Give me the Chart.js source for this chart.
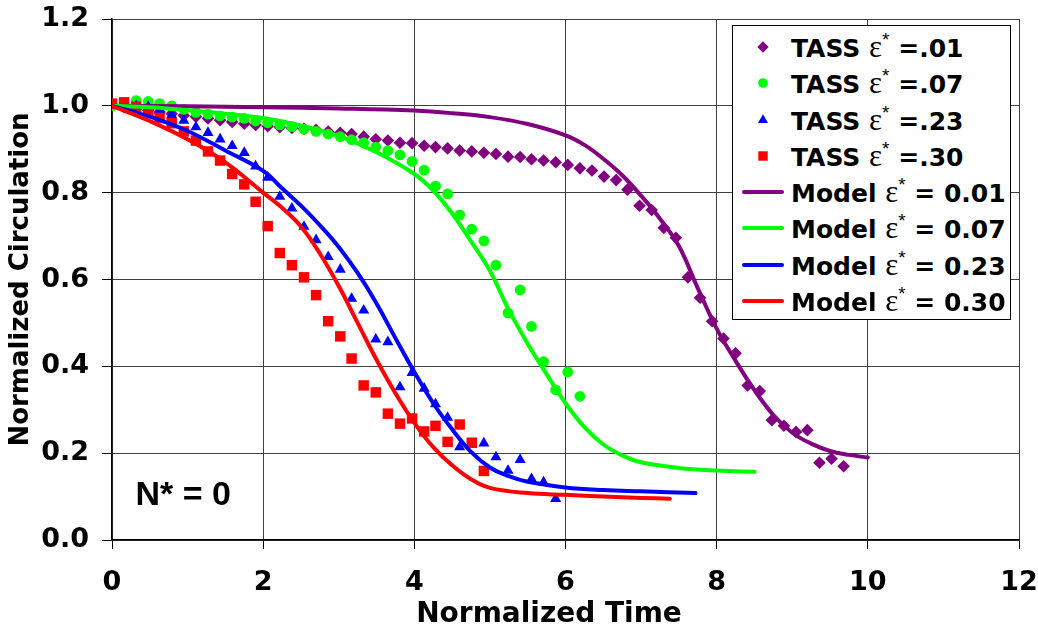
<!DOCTYPE html>
<html>
<head>
<meta charset="utf-8">
<script src="https://cdn.jsdelivr.net/npm/chart.js@4.4.1/dist/chart.umd.min.js"></script>
<style>
  html, body { margin: 0; padding: 0; background: #fff; }
  #wrap { position: relative; width: 1038px; height: 633px; }
  #legend {
    position: absolute; left: 732px; top: 25px; width: 277px;
    background: #fff; border: 1px solid #000; padding: 3px 0 0 0;
    font-family: 'DejaVu Sans', sans-serif; font-weight: bold; font-size: 25px; color: #000;
  }
  #legend .row { position: relative; height: 36.3px; line-height: 36.3px; white-space: nowrap; }
  #legend canvas { position: absolute; left: 9px; top: 8px; }
  #legend .txt { position: absolute; left: 58px; top: 0; }
  #legend .eps { font-family: 'Liberation Serif', serif; font-weight: normal; font-size: 31px; }
  #legend sup { font-family: 'Liberation Sans', sans-serif; font-weight: normal; font-size: 19px; vertical-align: 11px; line-height: 0; }
</style>
</head>
<body>
<div id="wrap">
  <canvas id="chart"></canvas>
  <div id="legend"></div>
</div>
<script>
// TASS samples (same time stamps for every case)
const tassTime = [0, 0.16, 0.32, 0.48, 0.63, 0.79, 0.95, 1.11, 1.27, 1.43,
  1.59, 1.75, 1.90, 2.06, 2.22, 2.38, 2.54, 2.70, 2.86, 3.02,
  3.17, 3.33, 3.49, 3.65, 3.81, 3.97, 4.13, 4.28, 4.44, 4.60,
  4.76, 4.92, 5.08, 5.24, 5.40, 5.55, 5.71, 5.87, 6.03, 6.19,
  6.35, 6.51, 6.67, 6.82, 6.98, 7.14, 7.30, 7.46, 7.62, 7.78,
  7.94, 8.09, 8.25, 8.41, 8.57, 8.73, 8.89, 9.05, 9.20, 9.36,
  9.52, 9.68];

const tass001 = [1.000, 0.997, 0.994, 0.990, 0.986, 0.982, 0.978, 0.975, 0.971, 0.967,
  0.963, 0.959, 0.956, 0.953, 0.951, 0.949, 0.947, 0.945, 0.941, 0.938,
  0.935, 0.929, 0.923, 0.920, 0.915, 0.914, 0.908, 0.905, 0.902, 0.897,
  0.895, 0.892, 0.889, 0.883, 0.882, 0.877, 0.874, 0.870, 0.864, 0.856,
  0.851, 0.837, 0.829, 0.807, 0.770, 0.760, 0.719, 0.696, 0.605, 0.558,
  0.504, 0.464, 0.430, 0.356, 0.343, 0.276, 0.263, 0.249, 0.253, 0.178,
  0.187, 0.170];

const tass007 = [1.000, 1.008, 1.012, 1.010, 1.005, 1.000, 0.992, 0.985, 0.981, 0.977,
  0.974, 0.971, 0.965, 0.961, 0.956, 0.952, 0.946, 0.941, 0.935, 0.929,
  0.922, 0.915, 0.905, 0.897, 0.887, 0.872, 0.852, 0.815, 0.797, 0.749,
  0.716, 0.689, 0.633, 0.523, 0.576, 0.492, 0.411, 0.346, 0.387, 0.331];

const tass023 = [1.000, 1.005, 1.000, 0.998, 0.989, 0.979, 0.966, 0.951, 0.938, 0.923,
  0.908, 0.892, 0.861, 0.835, 0.791, 0.764, 0.722, 0.691, 0.652, 0.623,
  0.556, 0.529, 0.462, 0.456, 0.352, 0.385, 0.349, 0.313, 0.282, 0.214,
  null, 0.223, 0.191, 0.160, 0.185, 0.141, 0.133, 0.095];

const tass030 = [1.005, 1.008, 0.998, 0.985, 0.972, 0.960, 0.941, 0.920, 0.895, 0.874,
  0.843, 0.819, 0.779, 0.723, 0.661, 0.633, 0.605, 0.564, 0.504, 0.469,
  0.418, 0.356, 0.340, 0.291, 0.268, 0.280, 0.250, 0.263, 0.226, 0.266,
  0.224, 0.159];

// model curves
const model001Time = [0, 1, 2, 3, 4, 4.5, 5, 5.5, 6, 6.25, 6.5, 6.75, 7, 7.25, 7.5, 7.75, 8, 8.25, 8.5, 8.75, 9, 9.25, 9.5, 9.75, 10];
const model001 = [1.0, 0.999, 0.997, 0.994, 0.989, 0.983, 0.974, 0.958, 0.932, 0.91, 0.878, 0.84, 0.793, 0.74, 0.677, 0.58, 0.487, 0.413, 0.345, 0.288, 0.247, 0.222, 0.205, 0.196, 0.19];

const model007Time = [0, 0.5, 1, 1.5, 2, 2.5, 3, 3.5, 4, 4.25, 4.5, 4.75, 5, 5.25, 5.5, 5.75, 6, 6.25, 6.5, 6.75, 7, 7.5, 8, 8.5];
const model007 = [1.0, 0.997, 0.99, 0.982, 0.972, 0.955, 0.93, 0.893, 0.843, 0.805, 0.752, 0.688, 0.62, 0.53, 0.452, 0.382, 0.315, 0.26, 0.22, 0.195, 0.179, 0.166, 0.16, 0.157];

const model023Time = [0, 0.5, 1, 1.5, 2, 2.25, 2.5, 2.75, 3, 3.25, 3.5, 3.75, 4, 4.25, 4.5, 4.75, 5, 5.25, 5.5, 6, 6.5, 7, 7.72];
const model023 = [1.0, 0.975, 0.942, 0.897, 0.85, 0.81, 0.77, 0.725, 0.675, 0.615, 0.545, 0.465, 0.387, 0.315, 0.255, 0.203, 0.167, 0.147, 0.134, 0.121, 0.115, 0.112, 0.108];

const model030Time = [0, 0.5, 1, 1.5, 2, 2.25, 2.5, 2.75, 3, 3.25, 3.5, 3.75, 4, 4.25, 4.5, 4.75, 5, 5.5, 6, 6.5, 7, 7.38];
const model030 = [1.0, 0.965, 0.923, 0.87, 0.8, 0.765, 0.722, 0.66, 0.585, 0.5, 0.415, 0.338, 0.27, 0.214, 0.172, 0.14, 0.12, 0.108, 0.104, 0.1, 0.097, 0.095];

const xTicks = [0, 2, 4, 6, 8, 10, 12];
const yTicks = [0.0, 0.2, 0.4, 0.6, 0.8, 1.0, 1.2];

const PURPLE = '#800080', GREEN = '#00ff00', BLUE = '#0000ff', RED = '#ff0000';

function pts(xs, ys) {
    return ys.map((y, i) => ({ x: xs[i], y: y }));
}

function tassSet(label, ys, color, style, radius, order) {
    return {
        label: label,
        data: pts(tassTime, ys),
        showLine: false,
        pointStyle: style,
        pointRadius: radius,
        pointHoverRadius: radius,
        pointBackgroundColor: color,
        pointBorderColor: color,
        pointBorderWidth: 0,
        backgroundColor: color,
        borderColor: color,
        order: order
    };
}

function modelSet(label, xs, ys, color, order) {
    return {
        label: label,
        data: pts(xs, ys),
        showLine: true,
        borderColor: color,
        backgroundColor: color,
        borderWidth: 4,
        pointRadius: 0,
        pointHoverRadius: 0,
        tension: 0.4,
        borderCapStyle: 'round',
        order: order
    };
}

const datasets = [
    tassSet('TASS ε* =.01', tass001, PURPLE, 'rectRot', 6.3, 8),
    tassSet('TASS ε* =.07', tass007, GREEN, 'circle', 5.4, 7),
    tassSet('TASS ε* =.23', tass023, BLUE, 'triangle', 6.4, 6),
    tassSet('TASS ε* =.30', tass030, RED, 'rect', 7.4, 5),
    modelSet('Model ε* = 0.01', model001Time, model001, PURPLE, 4),
    modelSet('Model ε* = 0.07', model007Time, model007, GREEN, 3),
    modelSet('Model ε* = 0.23', model023Time, model023, BLUE, 2),
    modelSet('Model ε* = 0.30', model030Time, model030, RED, 1)
];

// legend in html so the epsilon and superscript star can be set
const htmlLegend = {
    id: 'htmlLegend',
    afterUpdate(chart) {
        const box = document.getElementById('legend');
        box.innerHTML = '';
        chart.data.datasets.forEach(ds => {
            const row = document.createElement('div');
            row.className = 'row';
            const c = document.createElement('canvas');
            c.width = 42; c.height = 20;
            const ctx = c.getContext('2d');
            if (ds.showLine) {
                ctx.strokeStyle = ds.borderColor;
                ctx.lineWidth = 4;
                ctx.lineCap = 'round';
                ctx.beginPath();
                ctx.moveTo(2, 10); ctx.lineTo(40, 10);
                ctx.stroke();
            } else {
                ctx.fillStyle = ds.pointBackgroundColor;
                ctx.strokeStyle = ds.pointBackgroundColor;
                Chart.helpers.drawPoint(ctx, {
                    pointStyle: ds.pointStyle, radius: ds.pointRadius * 0.9, rotation: 0, borderWidth: 0
                }, 21, 10);
            }
            row.appendChild(c);
            const parts = ds.label.split('ε*');
            const txt = document.createElement('span');
            txt.className = 'txt';
            txt.innerHTML = parts[0] + '<span class="eps">ε</span><sup>*</sup>' + parts[1];
            row.appendChild(txt);
            box.appendChild(row);
        });
    }
};

const extraText = {
    id: 'extraText',
    afterDraw(chart) {
        const ctx = chart.ctx;
        const sx = chart.scales.x, sy = chart.scales.y;
        ctx.save();
        ctx.fillStyle = '#000';
        ctx.textBaseline = 'alphabetic';
        ctx.textAlign = 'center';
        ctx.font = 'bold 28px "DejaVu Sans"';
        ctx.fillText('Normalized Time', 549, 622);
        ctx.textAlign = 'left';
        ctx.font = 'bold 34px "Liberation Sans"';
        ctx.fillText('N* = 0', sx.getPixelForValue(0.31), sy.getPixelForValue(0.08));
        ctx.restore();
    }
};

const tickFont = { family: 'DejaVu Sans', weight: 'bold', size: 27 };

// keep the plot frame where the picture has it
function noEdgePadding(s) {
    s.paddingTop = 0; s.paddingBottom = 0; s.paddingLeft = 0; s.paddingRight = 0;
}

new Chart(document.getElementById('chart'), {
    type: 'scatter',
    data: { datasets: datasets },
    plugins: [htmlLegend, extraText],
    options: {
        responsive: true,
        maintainAspectRatio: false,
        animation: false,
        layout: { padding: { top: 19, right: 19, left: 0, bottom: 0 } },
        plugins: {
            legend: { display: false },
            tooltip: { enabled: false }
        },
        scales: {
            x: {
                type: 'linear',
                min: 0, max: 12,
                afterBuildTicks: s => { s.ticks = xTicks.map(v => ({ value: v })); },
                afterFit: s => { s.height = 93; noEdgePadding(s); },
                ticks: { font: tickFont, color: '#000', padding: 18, maxRotation: 0,
                    callback: v => String(v) },
                grid: { color: '#404040', lineWidth: 1, tickColor: '#000', tickLength: 9 },
                border: { color: '#000', width: 1.5 }
            },
            y: {
                type: 'linear',
                min: 0, max: 1.2,
                afterBuildTicks: s => { s.ticks = yTicks.map(v => ({ value: v })); },
                afterFit: s => { s.width = 112; noEdgePadding(s); },
                ticks: { font: tickFont, color: '#000', padding: 13,
                    callback: v => Number(v).toFixed(1) },
                grid: { color: '#404040', lineWidth: 1, tickColor: '#000', tickLength: 10 },
                border: { color: '#000', width: 1.5 },
                title: {
                    display: true, text: 'Normalized Circulation', color: '#000',
                    font: { family: 'DejaVu Sans', weight: 'bold', size: 26 },
                    padding: { top: 6, bottom: 0 }
                }
            }
        }
    }
});
</script>
</body>
</html>
